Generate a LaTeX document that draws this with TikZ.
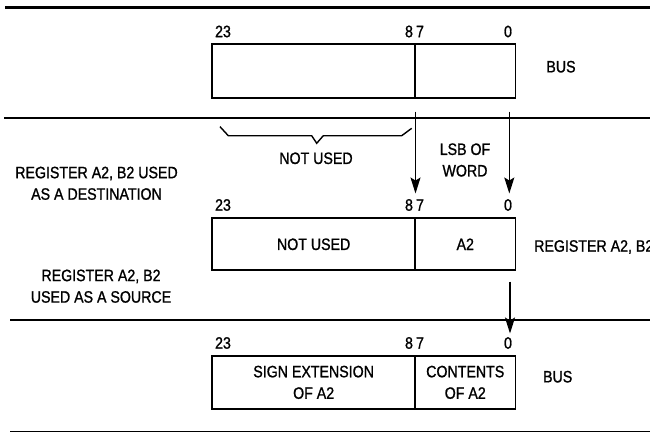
\documentclass[tikz,border=0pt]{standalone}
\usepackage{fontspec}
\setmainfont{Liberation Sans}[FakeStretch=0.86,FakeBold=1.1]
\usetikzlibrary{arrows.meta}
\begin{document}
\begin{tikzpicture}[x=1pt,y=-1pt,
  font=\fontsize{16.5}{21.5}\selectfont,
  rule/.style={line width=2.2pt},
  thinrule/.style={line width=1.5pt},
  field/.style={draw, line width=1.7pt, inner sep=0pt, align=center},
  lbl/.style={inner sep=0pt, align=center},
  arr/.style={line width=1.3pt, -{Stealth[length=16pt,width=10pt,inset=3pt]}}]
\useasboundingbox (0,0) rectangle (650,433);
% horizontal rules
\coordinate (r1a) at (5,7.5);   \coordinate (r1b) at (650,7.5);
\coordinate (r2a) at (4,118);   \coordinate (r2b) at (650,118);
\coordinate (r3a) at (10,320);  \coordinate (r3b) at (650,320);
\coordinate (r4a) at (10,431.5);  \coordinate (r4b) at (650,431.5);
\draw[rule] (r1a) -- (r1b);
\draw[rule] (r2a) -- (r2b);
\draw[rule] (r3a) -- (r3b);
\draw[thinrule] (r4a) -- (r4b);
% top bus word
\node[field, minimum width=202.7pt, minimum height=54pt] (b1l) at (313.65,70.7) {};
\node[field, minimum width=100.5pt, minimum height=54pt] (b1r) at (465.25,70.7) {};
\node[lbl] (t23a) at (223,31.5) {23};
\node[lbl] (t8a) at (409,31.5) {8};
\node[lbl] (t7a) at (420,31.5) {7};
\node[lbl] (t0a) at (508,31.5) {0};
\node[lbl] (busa) at (561,66.7) {BUS};
% brace + not used
\draw[line width=1.4pt] (220,126.7) -- (228.3,135.7) -- (311.7,135.7) -- (316.7,143.3) -- (323.3,135.7) -- (401.7,135.7) -- (411.7,128.3);
\node[lbl] (nu) at (316,158.3) {NOT USED};
\node[lbl] (lsb) at (465,160) {LSB OF\\WORD};
% destination arrows
\coordinate (d1s) at (415.5,111.7); \coordinate (d1e) at (415.5,193.5);
\coordinate (d2s) at (509.3,111.7); \coordinate (d2e) at (509.3,193.5);
\draw[arr] (d1s) -- (d1e);
\draw[arr] (d2s) -- (d2e);
% left labels
\node[lbl] (dest) at (96.5,183.3) {REGISTER A2, B2 USED\\AS A DESTINATION};
\node[lbl] (src) at (101,286.2) {REGISTER A2, B2\\USED AS A SOURCE};
% register word
\node[field, minimum width=202.7pt, minimum height=52pt] (b2l) at (313.65,244.3) {NOT USED};
\node[field, minimum width=100.5pt, minimum height=52pt] (b2r) at (465.25,244.3) {A2};
\node[lbl] (t23b) at (223,205) {23};
\node[lbl] (t8b) at (409,205) {8};
\node[lbl] (t7b) at (420,205) {7};
\node[lbl] (t0b) at (508,205) {0};
\node[lbl, anchor=west] (reg) at (534,247) {REGISTER A2, B2};
% source arrow
\coordinate (s1s) at (510,281.7); \coordinate (s1e) at (510,333.5);
\draw[arr] (s1s) -- (s1e);
% bottom bus word
\node[field, minimum width=202.7pt, minimum height=53.3pt] (b3l) at (313.65,382.35) {SIGN EXTENSION\\OF A2};
\node[field, minimum width=100.5pt, minimum height=53.3pt] (b3r) at (465.25,382.35) {CONTENTS\\OF A2};
\node[lbl] (t23c) at (223,343) {23};
\node[lbl] (t8c) at (409,343) {8};
\node[lbl] (t7c) at (420,343) {7};
\node[lbl] (t0c) at (508,343) {0};
\node[lbl] (busc) at (557.7,376.7) {BUS};
\end{tikzpicture}
\end{document}
